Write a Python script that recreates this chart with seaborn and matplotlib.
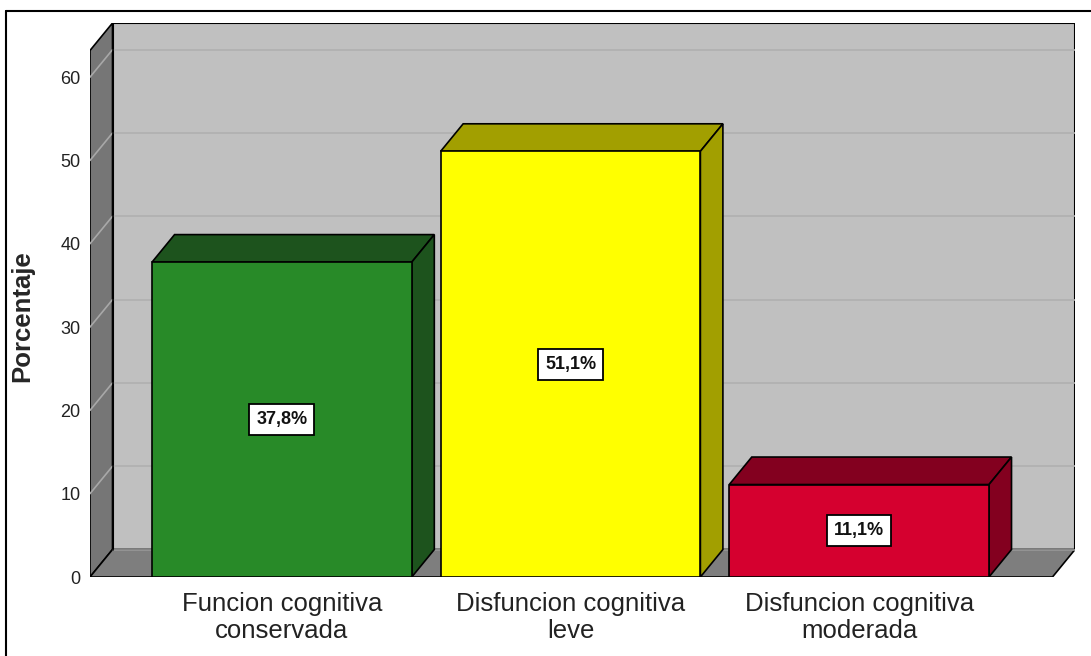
import matplotlib
matplotlib.use("Agg")
import matplotlib.pyplot as plt
import numpy as np
import pandas as pd
import seaborn as sns
from matplotlib.patches import Polygon, Rectangle
from matplotlib.lines import Line2D

# data
categorias = ["Funcion cognitiva\nconservada",
              "Disfuncion cognitiva\nleve",
              "Disfuncion cognitiva\nmoderada"]
porcentajes = [37.8, 51.1, 11.1]
etiquetas = ["37,8%", "51,1%", "11,1%"]
y_ticks = [0, 10, 20, 30, 40, 50, 60]

# colours: front face / top+side face
color_frente = ["#288A28", "#FFFF00", "#D5002F"]
color_sombra = ["#1D531D", "#A29F00", "#83001F"]

sns.set_style("white")
plt.rcParams["font.family"] = ["Liberation Sans", "DejaVu Sans"]

df = pd.DataFrame({"categoria": categorias, "porcentaje": porcentajes})

fig = plt.figure(figsize=(10.91, 6.56), dpi=100)
ax = fig.add_axes([90 / 1091, 79 / 656, 985 / 1091, 554 / 656])

# 3D box geometry (data units)
x0, x1 = -0.665, 2.670      # front plane left/right
ytop = 63.2                  # front plane top
dx, dy = 0.078, 3.3          # depth offset

# back wall
ax.add_patch(Rectangle((x0 + dx, dy), x1 - x0, ytop, facecolor="#C0C0C0",
                       edgecolor="black", lw=1.5, zorder=0))
for v in y_ticks[1:]:
    ax.plot([x0 + dx, x1 + dx], [v + dy, v + dy], color="#B0B0B0", lw=1.2, zorder=0.5)

# left wall
ax.add_patch(Polygon([(x0, 0), (x0 + dx, dy), (x0 + dx, ytop + dy), (x0, ytop)],
                     closed=True, facecolor="#767676", edgecolor="black", lw=1.2, zorder=1))
for v in y_ticks[1:]:
    ax.plot([x0, x0 + dx], [v, v + dy], color="#A8A8A8", lw=1.2, zorder=1.2)

# floor
ax.add_patch(Polygon([(x0, 0), (x1, 0), (x1 + dx, dy), (x0 + dx, dy)],
                     closed=True, facecolor="#7E7E7E", edgecolor="black", lw=1.2, zorder=1))
ax.plot([x0 + dx, x1 + dx], [dy, dy], color="#A0A0A0", lw=1.2, zorder=1.3)
ax.plot([x0 + dx, x0 + dx], [dy, ytop + dy], color="black", lw=1.2, zorder=1.3)

# front faces
sns.barplot(data=df, x="categoria", y="porcentaje", hue="categoria",
            palette=color_frente, saturation=1, width=0.9, legend=False,
            edgecolor="black", linewidth=1.2, ax=ax, zorder=3)

# top and side faces, value labels
w = 0.45
for i, v in enumerate(porcentajes):
    xl, xr = i - w, i + w
    ax.add_patch(Polygon([(xl, v), (xr, v), (xr + dx, v + dy), (xl + dx, v + dy)],
                         closed=True, facecolor=color_sombra[i], edgecolor="black",
                         lw=1.2, zorder=2.5))
    ax.add_patch(Polygon([(xr, 0), (xr + dx, dy), (xr + dx, v + dy), (xr, v)],
                         closed=True, facecolor=color_sombra[i], edgecolor="black",
                         lw=1.2, zorder=2.5))
    ax.text(i, v / 2, etiquetas[i], ha="center", va="center", fontsize=13,
            fontweight="bold", color="#111111", zorder=5,
            bbox=dict(boxstyle="square,pad=0.38", facecolor="white",
                      edgecolor="black", lw=1.3))

ax.set_xlim(x0, x1 + dx)
ax.set_ylim(0, ytop + dy)
ax.set_yticks(y_ticks)
ax.set_yticklabels([str(t) for t in y_ticks], fontsize=13, color="#222222")
ax.set_xticks(range(len(categorias)))
ax.set_xticklabels(categorias, fontsize=18.5, color="#222222", linespacing=1.12)
ax.tick_params(axis="y", length=0, pad=7)
ax.tick_params(axis="x", length=0, pad=11)
ax.set_xlabel("")
ax.set_ylabel("Porcentaje", fontsize=18.5, fontweight="bold")
ax.yaxis.set_label_coords(-0.057, 0.471)
for s in ax.spines.values():
    s.set_visible(False)
ax.patch.set_alpha(0)

# outer frame
fig.add_artist(Line2D([6 / 1091, 1.0], [1 - 11 / 656, 1 - 11 / 656],
                      transform=fig.transFigure, color="black", lw=1.5))
fig.add_artist(Line2D([6 / 1091, 6 / 1091], [0, 1 - 11 / 656],
                      transform=fig.transFigure, color="black", lw=1.5))

fig.savefig("out.png", dpi=100)
